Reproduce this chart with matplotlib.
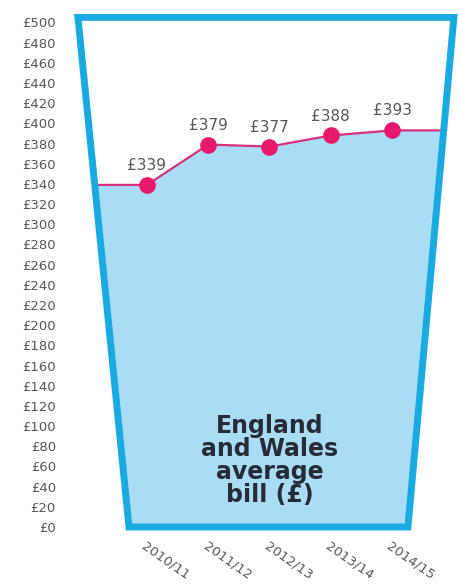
import matplotlib
matplotlib.use("Agg")
import matplotlib.pyplot as plt
from matplotlib.patches import Polygon

# Average water bill per year
years = ["2010/11", "2011/12", "2012/13", "2013/14", "2014/15"]
bills = [339, 379, 377, 388, 393]
y_ticks = list(range(0, 501, 20))

glass_blue = "#1ba9e1"
water_blue = "#abdcf5"
line_pink = "#d8307a"
dot_pink = "#e8186d"
grey = "#555555"

fig = plt.figure(figsize=(4.6, 5.87), dpi=100)
ax = fig.add_axes([60 / 460, 47 / 587, 400 / 460, 535 / 587])
ax.set_xlim(-1.42, 5.11)
ax.set_ylim(-12.9, 517.3)

x = list(range(len(years)))

# glass outline (top wider than bottom)
glass_pts = [(-1.127, 505), (5.01, 505), (4.26, 0), (-0.294, 0)]
glass = Polygon(glass_pts, closed=True, facecolor="none", edgecolor=glass_blue,
                lw=5, joinstyle="miter", zorder=4, clip_on=False)
ax.add_patch(glass)
clip = Polygon(glass_pts, closed=True, transform=ax.transData)

# water level: flat before the first year and after the last
x_ext = [-2] + x + [6]
y_ext = [bills[0]] + bills + [bills[-1]]
fill = ax.fill_between(x_ext, -20, y_ext, color=water_blue, lw=0, zorder=1)
fill.set_clip_path(clip)
ln, = ax.plot(x_ext, y_ext, color=line_pink, lw=1.6, zorder=2)
ln.set_clip_path(clip)

ax.plot(x, bills, "o", color=dot_pink, ms=12, mec="none", zorder=3)
for xi, b in zip(x, bills):
    ax.annotate("£%d" % b, (xi, b), xytext=(0, 14), textcoords="offset points",
                ha="center", va="center", fontsize=11, color=grey)

ax.text(2.0, 66, "England\nand Wales\naverage\nbill (£)", ha="center",
        va="center", fontsize=17, fontweight="bold", color="#262b35",
        linespacing=0.95, zorder=5)

ax.set_yticks(y_ticks)
ax.set_yticklabels(["£%d" % v for v in y_ticks], fontsize=9.5, color=grey)
ax.set_xticks(x)
ax.set_xticklabels(years, rotation=-35, ha="left", rotation_mode="anchor",
                   fontsize=9.5, color=grey)
ax.tick_params(axis="y", length=0, pad=3)
ax.tick_params(axis="x", length=0, pad=0)
for s in ax.spines.values():
    s.set_visible(False)

fig.savefig("out.png", dpi=100)
